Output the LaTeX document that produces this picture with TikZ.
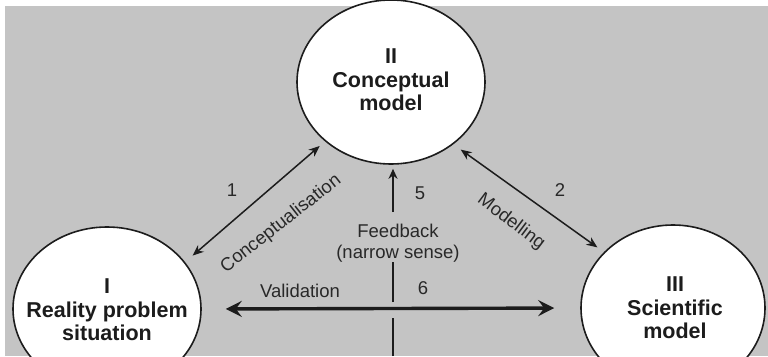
\documentclass[tikz,border=0pt]{standalone}
\usepackage{fontspec}
\setmainfont{Liberation Sans}
\usetikzlibrary{shapes.geometric,arrows.meta}
\definecolor{paper}{RGB}{196,196,196}
\definecolor{ink}{RGB}{28,28,28}
\definecolor{labelink}{RGB}{40,40,40}
\begin{document}
\begin{tikzpicture}[x=1pt,y=-1pt,
  stage/.style={ellipse, draw=ink, line width=1.6pt, fill=white, inner sep=0pt},
  stagetext/.style={font=\fontsize{21.5}{23.5}\selectfont\bfseries, text=ink, align=center, inner sep=0pt},
  lbl/.style={font=\fontsize{18.5}{21}\selectfont, text=labelink, inner sep=0pt},
  link/.style={draw=ink, line width=1.5pt,
    {Stealth[length=11pt,width=9pt]}-{Stealth[length=11pt,width=9pt]}},
  valarrow/.style={draw=ink, line width=3.4pt,
    {Stealth[length=16pt,width=16pt,inset=6pt]}-{Stealth[length=16pt,width=16pt,inset=6pt]}},
  fbline/.style={draw=ink, line width=1.9pt}
]
\useasboundingbox (0,0) rectangle (768,356);
\clip (0,0) rectangle (768,356);
% page and grey plate
\fill[white] (0,0) rectangle (768,356);
\fill[paper] (5,6) rectangle (768,356);

% the three stages
\node[stage, minimum width=188pt, minimum height=164pt] (II) at (391,82) {};
\node[stage, minimum width=188pt, minimum height=164pt] (I) at (107,309) {};
\node[stage, minimum width=184pt, minimum height=166pt] (III) at (673,308) {};
\node[stagetext] (IIt) at (391,80) {II\\Conceptual\\model};
\node[stagetext] (It) at (107,310) {I\\Reality problem\\situation};
\node[stagetext] (IIIt) at (675,308) {III\\Scientific\\model};

% conceptualisation and modelling
\draw[link, shorten <=10pt, shorten >=7pt] (I.31) -- (II.222);
\draw[link, shorten <=9pt, shorten >=8pt] (II.315) -- (III.141);

% validation
\draw[valarrow, shorten <=24pt, shorten >=26pt] (I.east) -- (III.west);

% feedback (narrow sense), broken at the validation arrow and at its label
\coordinate (fbfoot) at (393,356);
\coordinate (fbgapB) at (393,318);
\coordinate (fbgapT) at (393,302);
\coordinate (fblblB) at (393,262);
\coordinate (fblblT) at (393,212);
\draw[fbline] (fbfoot) -- (fbgapB);
\draw[fbline] (fbgapT) -- (fblblB);
\draw[fbline, -{Stealth[length=10pt,width=9pt]}, shorten >=4pt] (fblblT) -- (fblblT |- II.south);

% labels
\node[lbl] (n1) at (232,190) {1};
\node[lbl] (n2) at (560,190) {2};
\node[lbl] (n5) at (420,193) {5};
\node[lbl] (n6) at (423,288) {6};
\node[lbl] (val) at (300,291) {Validation};
\node[lbl, align=center] (fb) at (398,243) {Feedback\\(narrow sense)};
\node[lbl, rotate=38] (concept) at (281,224) {Conceptualisation};
\node[lbl, rotate=-37] (modl) at (511,222) {Modelling};
\end{tikzpicture}
\end{document}
